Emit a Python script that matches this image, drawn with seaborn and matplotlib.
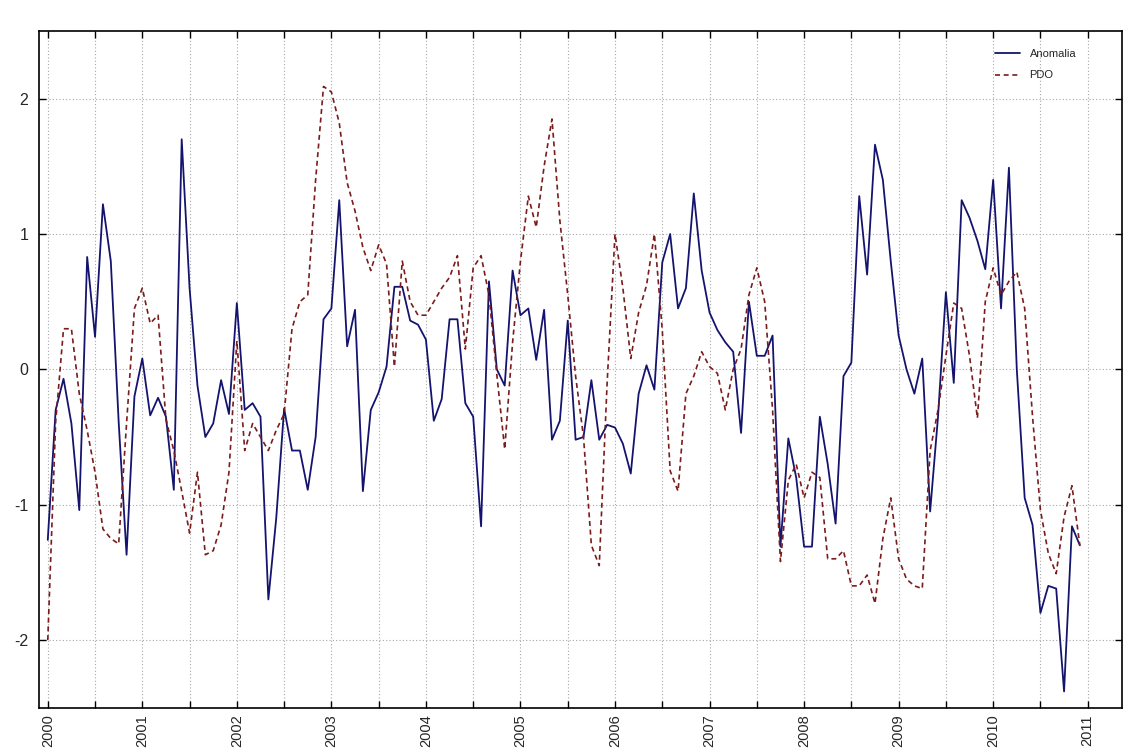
import numpy as np
import pandas as pd
import matplotlib
matplotlib.use("Agg")
import matplotlib.pyplot as plt
import seaborn as sns

# ---- data (monthly, Jan 2000 .. Dec 2010) ----
start_year = 2000
n_months = 132
anomalia = [
    -1.26, -0.30, -0.07, -0.40, -1.04, 0.83, 0.24, 1.22, 0.80, -0.39, -1.37, -0.20,
    0.08, -0.34, -0.21, -0.35, -0.89, 1.70, 0.60, -0.12, -0.50, -0.40, -0.08, -0.33,
    0.49, -0.30, -0.25, -0.35, -1.70, -1.10, -0.29, -0.60, -0.60, -0.89, -0.50, 0.37,
    0.45, 1.25, 0.17, 0.44, -0.90, -0.30, -0.17, 0.02, 0.61, 0.61, 0.36, 0.33,
    0.22, -0.38, -0.22, 0.37, 0.37, -0.25, -0.35, -1.16, 0.65, 0.00, -0.12, 0.73,
    0.40, 0.45, 0.07, 0.44, -0.52, -0.38, 0.36, -0.52, -0.50, -0.08, -0.52, -0.41,
    -0.43, -0.55, -0.77, -0.18, 0.03, -0.15, 0.79, 1.00, 0.45, 0.60, 1.30, 0.73,
    0.42, 0.29, 0.20, 0.13, -0.47, 0.50, 0.10, 0.10, 0.25, -1.31, -0.51, -0.80,
    -1.31, -1.31, -0.35, -0.70, -1.14, -0.05, 0.05, 1.28, 0.70, 1.66, 1.40, 0.80,
    0.25, 0.00, -0.18, 0.08, -1.05, -0.35, 0.57, -0.10, 1.25, 1.12, 0.95, 0.74,
    1.40, 0.45, 1.49, 0.00, -0.95, -1.15, -1.80, -1.60, -1.62, -2.38, -1.16, -1.30,
]
pdo = [
    -2.00, -0.39, 0.30, 0.30, -0.18, -0.45, -0.76, -1.18, -1.25, -1.29, -0.40, 0.45,
    0.60, 0.34, 0.40, -0.37, -0.60, -0.90, -1.21, -0.76, -1.37, -1.34, -1.15, -0.76,
    0.21, -0.60, -0.40, -0.50, -0.60, -0.45, -0.33, 0.30, 0.50, 0.55, 1.40, 2.09,
    2.05, 1.82, 1.38, 1.17, 0.90, 0.73, 0.92, 0.78, 0.02, 0.80, 0.50, 0.40,
    0.40, 0.50, 0.60, 0.68, 0.84, 0.15, 0.75, 0.84, 0.55, -0.04, -0.59, 0.20,
    0.80, 1.28, 1.05, 1.50, 1.85, 1.10, 0.55, -0.05, -0.50, -1.30, -1.45, -0.10,
    1.00, 0.60, 0.08, 0.42, 0.62, 1.00, 0.29, -0.75, -0.90, -0.18, -0.05, 0.13,
    0.02, -0.03, -0.30, 0.00, 0.15, 0.55, 0.75, 0.50, -0.30, -1.42, -0.82, -0.70,
    -0.95, -0.76, -0.80, -1.40, -1.40, -1.34, -1.60, -1.60, -1.52, -1.73, -1.25, -0.95,
    -1.40, -1.55, -1.60, -1.62, -0.60, -0.30, 0.10, 0.49, 0.45, 0.10, -0.36, 0.50,
    0.75, 0.55, 0.65, 0.72, 0.45, -0.35, -1.04, -1.36, -1.51, -1.09, -0.86, -1.30,
]
year_ticks = list(range(2000, 2012))
y_ticks = [-2, -1, 0, 1, 2]
series_names = ["Anomalia", "PDO"]

time = start_year + np.arange(n_months) / 12.0
df = pd.DataFrame({
    "time": np.concatenate([time, time]),
    "value": np.concatenate([anomalia, pdo]),
    "serie": [series_names[0]] * n_months + [series_names[1]] * n_months,
})

sns.set_style("ticks")
plt.rcParams["font.family"] = ["Liberation Sans", "DejaVu Sans"]

fig = plt.figure(figsize=(11.25, 7.53), dpi=100)
ax = fig.add_axes([0.0349, 0.0602, 0.9622, 0.8986])

colors = {"Anomalia": "#14146e", "PDO": "#7a1c1c"}
sns.lineplot(data=df[df.serie == "Anomalia"], x="time", y="value", ax=ax,
             color=colors["Anomalia"], lw=1.3, label="Anomalia")
sns.lineplot(data=df[df.serie == "PDO"], x="time", y="value", ax=ax,
             color=colors["PDO"], lw=1.2, label="PDO")
ax.lines[1].set_dashes([3, 2.2])

ax.set_xlim(1999.91, 2011.36)
ax.set_ylim(-2.5, 2.5)
ax.set_xticks(year_ticks)
ax.set_xticks([y + 0.5 for y in year_ticks[:-1]], minor=True)
ax.set_xticklabels([str(y) for y in year_ticks], rotation=90, fontsize=10.5)
ax.set_yticks(y_ticks)
ax.set_yticklabels([str(v) for v in y_ticks], fontsize=11.5)
ax.set_xlabel("")
ax.set_ylabel("")

ax.tick_params(which="both", direction="in", top=True, right=True, length=5,
               width=1.0, color="black")
ax.tick_params(axis="x", which="major", pad=5)
ax.tick_params(axis="y", which="major", pad=8)

grid_kw = dict(color="#a8a8a8", linewidth=0.8, linestyle=(0, (1, 2)))
ax.grid(True, which="major", axis="both", **grid_kw)
ax.grid(True, which="minor", axis="x", **grid_kw)

for s in ax.spines.values():
    s.set_linewidth(1.2)
    s.set_color("black")

leg = ax.legend(loc="upper left", bbox_to_anchor=(0.883, 0.973), frameon=False,
                prop={"family": ["Liberation Sans"], "size": 8},
                handlelength=2.2, handletextpad=0.9,
                labelspacing=1.0, borderaxespad=0, borderpad=0)

fig.savefig("out.png", dpi=100, facecolor="white")
